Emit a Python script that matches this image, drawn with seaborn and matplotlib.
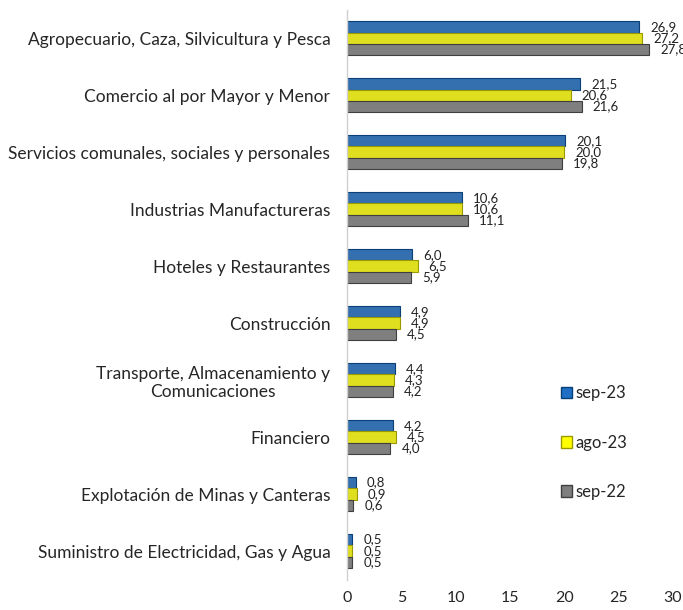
import pandas as pd
import seaborn as sns
import matplotlib.pyplot as plt

# participacion por actividad (%)
categorias = ['Agropecuario, Caza, Silvicultura y Pesca',
              'Comercio al por Mayor y Menor',
              'Servicios comunales, sociales y personales',
              'Industrias Manufactureras',
              'Hoteles y Restaurantes',
              'Construcción',
              'Transporte, Almacenamiento y\nComunicaciones',
              'Financiero',
              'Explotación de Minas y Canteras',
              'Suministro de Electricidad, Gas y Agua']
periodos = ['sep-23', 'ago-23', 'sep-22']
sep_23 = [26.9, 21.5, 20.1, 10.6, 6.0, 4.9, 4.4, 4.2, 0.8, 0.5]
ago_23 = [27.2, 20.6, 20.0, 10.6, 6.5, 4.9, 4.3, 4.5, 0.9, 0.5]
sep_22 = [27.8, 21.6, 19.8, 11.1, 5.9, 4.5, 4.2, 4.0, 0.6, 0.5]
xticks = [0, 5, 10, 15, 20, 25, 30]

df = pd.DataFrame({'Actividad': categorias, 'sep-23': sep_23, 'ago-23': ago_23, 'sep-22': sep_22})
df_melt = pd.melt(df, id_vars=['Actividad'], value_vars=periodos, var_name='Periodo', value_name='Valor')

sns.set_style('white')
plt.rcParams['font.family'] = ['Lato', 'DejaVu Sans']

colores = ['#1F6FC5', '#FFFF00', '#7F7F7F']
bordes = ['#0B3F78', '#9A9A00', '#3F3F3F']

fig = plt.figure(figsize=(6.83, 6.10), dpi=100)
ax = fig.add_axes([0.508, 0.05, 0.477, 0.934])
sns.barplot(data=df_melt, y='Actividad', x='Valor', hue='Periodo', hue_order=periodos,
            palette=colores, orient='h', width=0.6, ax=ax, legend=False)

for cont, borde, vals in zip(ax.containers, bordes, [sep_23, ago_23, sep_22]):
    for patch in cont:
        patch.set_edgecolor(borde)
        patch.set_linewidth(0.8)
    ax.bar_label(cont, labels=[f'{v:.1f}'.replace('.', ',') for v in vals],
                 padding=8, fontsize=9.5, color='#222222')

ax.set_xlim(0, 30)
ax.set_ylim(9.5, -0.5)
ax.set_xticks(xticks)
ax.set_xticklabels([str(t) for t in xticks], fontsize=11.5)
ax.set(xlabel='', ylabel='')
ax.tick_params(axis='y', labelsize=12.5, length=0, pad=12)
ax.tick_params(axis='x', length=0, pad=8)
for lab in ax.get_yticklabels():
    lab.set_multialignment('center')

for s in ['top', 'right', 'bottom']:
    ax.spines[s].set_visible(False)
ax.spines['left'].set_color('#D0D0D0')
ax.spines['left'].set_linewidth(1)

handles = [plt.Rectangle((0, 0), 1, 1, facecolor=c, edgecolor=b) for c, b in zip(colores, bordes)]
ax.legend(handles, periodos, loc='center left', bbox_to_anchor=(0.61, 0.24), frameon=False,
          fontsize=12, handlelength=0.7, handleheight=0.7, handletextpad=0.2, labelspacing=2.0)

plt.savefig('out.png', dpi=100)
